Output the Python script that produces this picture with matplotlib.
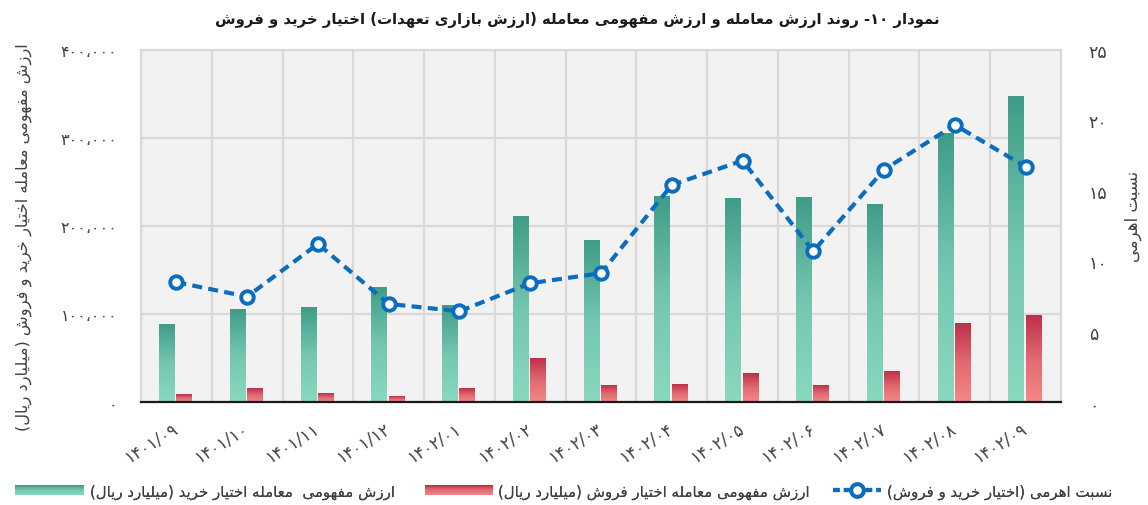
import numpy as np
import matplotlib
matplotlib.use("Agg")
import matplotlib.pyplot as plt
from matplotlib.colors import LinearSegmentedColormap
from matplotlib.legend_handler import HandlerBase
from matplotlib.patches import Rectangle
from matplotlib.lines import Line2D
from matplotlib.ticker import FuncFormatter, FixedLocator

# ---------------- data ----------------
categories = ['۱۴۰۱/۰۹', '۱۴۰۱/۱۰', '۱۴۰۱/۱۱', '۱۴۰۱/۱۲', '۱۴۰۲/۰۱', '۱۴۰۲/۰۲', '۱۴۰۲/۰۳',
              '۱۴۰۲/۰۴', '۱۴۰۲/۰۵', '۱۴۰۲/۰۶', '۱۴۰۲/۰۷', '۱۴۰۲/۰۸', '۱۴۰۲/۰۹']
call_values = [87800, 105200, 107200, 129900, 109400, 210600, 183300,
               233300, 231000, 232200, 224200, 304900, 346900]
put_values = [8600, 15100, 9800, 6400, 15100, 49200, 18500,
              19700, 32200, 18500, 34400, 89000, 98100]
leverage = [8.52, 7.50, 11.24, 6.98, 6.46, 8.45, 9.16,
            15.42, 17.15, 10.72, 16.51, 19.68, 16.72]

title_text = 'نمودار ۱۰- روند ارزش معامله و ارزش مفهومی معامله (ارزش بازاری تعهدات) اختیار خرید و فروش'
left_label = 'ارزش مفهومی معامله اختیار خرید و فروش (میلیارد ریال)'
right_label = 'نسبت اهرمی'
legend_labels = ['ارزش مفهومی  معامله اختیار خرید (میلیارد ریال)',
                 'ارزش مفهومی معامله اختیار فروش (میلیارد ریال)',
                 'نسبت اهرمی (اختیار خرید و فروش)']

# ---------------- minimal Persian shaping + bidi ----------------
FORMS = {
    'ا': ('\uFE8D', '\uFE8E', None, None),
    'آ': ('\uFE81', '\uFE82', None, None),
    'ب': ('\uFE8F', '\uFE90', '\uFE91', '\uFE92'),
    'پ': ('\uFB56', '\uFB57', '\uFB58', '\uFB59'),
    'ت': ('\uFE95', '\uFE96', '\uFE97', '\uFE98'),
    'ث': ('\uFE99', '\uFE9A', '\uFE9B', '\uFE9C'),
    'ج': ('\uFE9D', '\uFE9E', '\uFE9F', '\uFEA0'),
    'چ': ('\uFB7A', '\uFB7B', '\uFB7C', '\uFB7D'),
    'ح': ('\uFEA1', '\uFEA2', '\uFEA3', '\uFEA4'),
    'خ': ('\uFEA5', '\uFEA6', '\uFEA7', '\uFEA8'),
    'د': ('\uFEA9', '\uFEAA', None, None),
    'ذ': ('\uFEAB', '\uFEAC', None, None),
    'ر': ('\uFEAD', '\uFEAE', None, None),
    'ز': ('\uFEAF', '\uFEB0', None, None),
    'ژ': ('\uFB8A', '\uFB8B', None, None),
    'س': ('\uFEB1', '\uFEB2', '\uFEB3', '\uFEB4'),
    'ش': ('\uFEB5', '\uFEB6', '\uFEB7', '\uFEB8'),
    'ص': ('\uFEB9', '\uFEBA', '\uFEBB', '\uFEBC'),
    'ض': ('\uFEBD', '\uFEBE', '\uFEBF', '\uFEC0'),
    'ط': ('\uFEC1', '\uFEC2', '\uFEC3', '\uFEC4'),
    'ظ': ('\uFEC5', '\uFEC6', '\uFEC7', '\uFEC8'),
    'ع': ('\uFEC9', '\uFECA', '\uFECB', '\uFECC'),
    'غ': ('\uFECD', '\uFECE', '\uFECF', '\uFED0'),
    'ف': ('\uFED1', '\uFED2', '\uFED3', '\uFED4'),
    'ق': ('\uFED5', '\uFED6', '\uFED7', '\uFED8'),
    'ک': ('\uFB8E', '\uFB8F', '\uFB90', '\uFB91'),
    'گ': ('\uFB92', '\uFB93', '\uFB94', '\uFB95'),
    'ل': ('\uFEDD', '\uFEDE', '\uFEDF', '\uFEE0'),
    'م': ('\uFEE1', '\uFEE2', '\uFEE3', '\uFEE4'),
    'ن': ('\uFEE5', '\uFEE6', '\uFEE7', '\uFEE8'),
    'ه': ('\uFEE9', '\uFEEA', '\uFEEB', '\uFEEC'),
    'و': ('\uFEED', '\uFEEE', None, None),
    'ی': ('\uFEEF', '\uFEF0', '\uFEF3', '\uFEF4'),
}
MIRROR = {'(': ')', ')': '(', '[': ']', ']': '[', '«': '»', '»': '«'}
DIGITS = set('۰۱۲۳۴۵۶۷۸۹0123456789')


def dual(c):
    return c in FORMS and FORMS[c][2] is not None


def joinable(c):
    return c in FORMS


def shape(s):
    out = []
    n = len(s)
    i = 0
    while i < n:
        c = s[i]
        if c not in FORMS:
            out.append(c)
            i += 1
            continue
        prev = s[i - 1] if i > 0 else ''
        cp = dual(prev)
        if c == 'ل' and i + 1 < n and s[i + 1] in ('ا', 'آ'):
            if s[i + 1] == 'ا':
                out.append('\uFEFC' if cp else '\uFEFB')
            else:
                out.append('\uFEF6' if cp else '\uFEF5')
            i += 2
            continue
        nxt = s[i + 1] if i + 1 < n else ''
        cn = dual(c) and joinable(nxt)
        iso, fin, ini, med = FORMS[c]
        if cp and cn:
            out.append(med)
        elif cp:
            out.append(fin)
        elif cn:
            out.append(ini)
        else:
            out.append(iso)
        i += 1
    return ''.join(out)


def fa(s):
    shaped = shape(s)
    rev = [MIRROR.get(ch, ch) for ch in shaped[::-1]]
    res = []
    i = 0
    while i < len(rev):
        if rev[i] in DIGITS:
            j = i
            while j < len(rev) and (rev[j] in DIGITS or (rev[j] in '/،.,' and j + 1 < len(rev) and rev[j + 1] in DIGITS)):
                j += 1
            res.extend(rev[i:j][::-1])
            i = j
        else:
            res.append(rev[i])
            i += 1
    return ''.join(res)


def to_fa_digits(txt):
    return ''.join(chr(0x06F0 + int(ch)) if ch.isdigit() else ch for ch in txt)


# ---------------- figure ----------------
plt.rcParams['font.family'] = ['DejaVu Sans']
TXT = '#404040'
BLUE = '#0b6dbd'

fig = plt.figure(figsize=(11.48, 5.06), dpi=100)
ax = fig.add_axes([141 / 1148, 1 - 403.3 / 506, 920 / 1148, 352.3 / 506])
ax.set_facecolor('#f2f2f2')

x = np.arange(len(categories))
green_cmap = LinearSegmentedColormap.from_list('g', ['#8ad8c0', '#75c6b0', '#3f9c88'])
red_cmap = LinearSegmentedColormap.from_list('r', ['#f58787', '#e06a72', '#bf2f4a'])

gw, rw = 0.225, 0.225
green_bars = ax.bar(x - 0.02 - gw / 2, call_values, width=gw, facecolor='none', edgecolor='none')
red_bars = ax.bar(x + rw / 2, put_values, width=rw, facecolor='none', edgecolor='none')

grad = np.linspace(0, 1, 256).reshape(-1, 1)
for bars, cmap in ((green_bars, green_cmap), (red_bars, red_cmap)):
    for p in bars:
        x0, w, h = p.get_x(), p.get_width(), p.get_height()
        ax.imshow(grad, extent=[x0, x0 + w, 0, h], origin='lower', aspect='auto',
                  cmap=cmap, zorder=2, interpolation='bilinear')

ax.set_xlim(-0.5, len(categories) - 0.5)
ax.set_ylim(0, 400000)

ax.set_axisbelow(True)
ax.yaxis.set_major_locator(FixedLocator([0, 100000, 200000, 300000, 400000]))
ax.xaxis.set_minor_locator(FixedLocator(np.arange(-0.5, len(categories), 1.0)))
ax.grid(axis='y', which='major', color='#d9d9d9', lw=1.6)
ax.grid(axis='x', which='minor', color='#d9d9d9', lw=1.6)
for side in ('left', 'right', 'top'):
    ax.spines[side].set_color('#d9d9d9')
    ax.spines[side].set_linewidth(1.6)
ax.spines['bottom'].set_color('#1a1a1a')
ax.spines['bottom'].set_linewidth(1.6)
ax.spines['bottom'].set_zorder(5)

ax.set_xticks(x)
ax.set_xticklabels(categories, rotation=32, ha='right', va='center', rotation_mode='anchor',
                   fontsize=12, color=TXT)
ax.tick_params(axis='x', which='both', length=0, pad=17)
ax.tick_params(axis='y', length=0, pad=17, labelsize=11.5, labelcolor=TXT)
ax.yaxis.set_major_formatter(FuncFormatter(lambda v, pos: to_fa_digits(f'{int(v):,}').replace(',', '،')))
ax.set_ylabel(fa(left_label), fontsize=11.7, color=TXT)
ax.yaxis.set_label_coords(-0.119, 0.472)

ax2 = ax.twinx()
ax2.set_ylim(0, 25)
ax2.set_yticks([0, 5, 10, 15, 20, 25])
ax2.yaxis.set_major_formatter(FuncFormatter(lambda v, pos: to_fa_digits(str(int(v)))))
ax2.tick_params(axis='y', length=0, pad=20, labelsize=12.5, labelcolor=TXT)
for s in ax2.spines.values():
    s.set_visible(False)
ax2.plot(x, leverage, color=BLUE, lw=3, dashes=(2.4, 1.5),
         marker='o', ms=9, mfc='white', mec=BLUE, mew=2.8, zorder=4)
ax2.set_ylabel(fa(right_label), fontsize=12, color=TXT, rotation=90)
ax2.yaxis.set_label_coords(1.068, 0.53)

fig.text(0.503, 1 - 20 / 506, fa(title_text), ha='center', va='center',
         fontsize=10.7, fontweight='bold', color='#1a1a1a')


class GradHandler(HandlerBase):
    def __init__(self, cmap, n=12):
        super().__init__()
        self.cmap = cmap
        self.n = n

    def create_artists(self, legend, orig_handle, xdescent, ydescent, width, height, fontsize, trans):
        arts = []
        for k in range(self.n):
            y0 = -ydescent + height * k / self.n
            arts.append(Rectangle((-xdescent, y0), width, height / self.n + 0.05,
                                  facecolor=self.cmap(k / (self.n - 1)), edgecolor='none',
                                  transform=trans))
        return arts


class LineHandler(HandlerBase):
    def create_artists(self, legend, orig_handle, xdescent, ydescent, width, height, fontsize, trans):
        y = -ydescent + height / 2
        x0 = -xdescent
        x1 = -xdescent + width
        l = Line2D([x0, x1], [y, y], color=BLUE, lw=3, dashes=(1.6, 1.0), transform=trans)
        m = Line2D([(x0 + x1) / 2], [y], marker='o', ms=9, mfc='white', mec=BLUE, mew=2.8,
                   linestyle='none', transform=trans)
        return [l, m]


LFS = 10.8
common = dict(loc='center left', frameon=False, handleheight=0.72, handletextpad=0.4,
              fontsize=LFS, labelcolor=TXT, borderaxespad=0, borderpad=0)
entries = [
    (Rectangle((0, 0), 1, 1), GradHandler(green_cmap), legend_labels[0], 15, 4.6),
    (Rectangle((0, 0), 1, 1), GradHandler(red_cmap), legend_labels[1], 425, 4.5),
    (Line2D([], []), LineHandler(), legend_labels[2], 833, 3.2),
]
for handle, handler, label, xpix, hl in entries:
    leg = fig.legend([handle], [fa(label)], handler_map={handle: handler},
                     bbox_to_anchor=(xpix / 1148, 1 - 492 / 506), handlelength=hl, **common)
    fig.add_artist(leg)

fig.savefig('out.png', dpi=100)
